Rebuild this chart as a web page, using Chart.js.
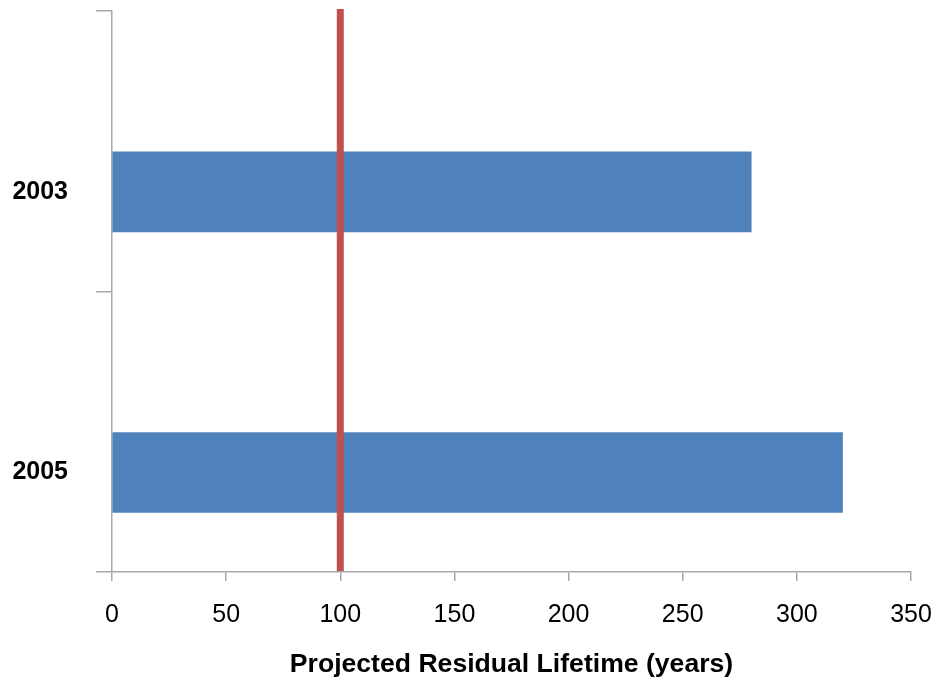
<!DOCTYPE html>
<html>
<head>
<meta charset="utf-8">
<script src="https://cdn.jsdelivr.net/npm/chart.js@4/dist/chart.umd.min.js"></script>
<style>
  html, body { margin: 0; padding: 0; background: #ffffff; }
  #wrap { width: 938px; height: 681px; }
</style>
</head>
<body>
<div id="wrap"><canvas id="c" width="938" height="681"></canvas></div>
<script>
// Survey years and projected residual lifetime of the reserve
const years = ['2003', '2005'];
const lifetimeYears = [280, 320];
// Reference threshold marked with a vertical line
const thresholdYears = 100;
const xTicks = [0, 50, 100, 150, 200, 250, 300, 350];
// Range of the year axis, in year-slot units (slot 0 is 2003 at the top)
const yMin = -0.645;
const yMax = 1.355;

const axisGray = '#a8a8a8';
const fontFamily = 'Liberation Sans, Arial, sans-serif';

// Vertical threshold line, positioned through the x scale
const thresholdLine = {
  id: 'thresholdLine',
  afterDatasetsDraw(chart) {
    const { ctx, chartArea, scales } = chart;
    const x = scales.x.getPixelForValue(thresholdYears);
    ctx.save();
    ctx.strokeStyle = '#c0504d';
    ctx.lineWidth = 7;
    ctx.beginPath();
    ctx.moveTo(x, chartArea.top - 2);
    ctx.lineTo(x, chartArea.bottom - 1);
    ctx.stroke();
    ctx.restore();
  }
};

new Chart(document.getElementById('c'), {
  type: 'bar',
  data: {
    datasets: [{
      data: years.map((yr, i) => ({ x: lifetimeYears[i], y: i })),
      backgroundColor: '#4f81bd',
      borderWidth: 0,
      barThickness: 80
    }]
  },
  options: {
    indexAxis: 'y',
    responsive: false,
    animation: false,
    layout: { padding: { top: 11, right: 27, left: 11, bottom: 0 } },
    plugins: { legend: { display: false }, tooltip: { enabled: false } },
    scales: {
      x: {
        type: 'linear',
        min: 0,
        max: 350,
        afterBuildTicks(scale) { scale.ticks = xTicks.map(v => ({ value: v })); },
        afterFit(scale) { scale.paddingLeft = 0; scale.paddingRight = 0; },
        grid: { drawOnChartArea: false, tickLength: 9, color: axisGray, lineWidth: 1.5 },
        border: { color: axisGray, width: 1.5 },
        ticks: {
          color: '#000000',
          padding: 19,
          font: { family: fontFamily, size: 25 }
        },
        title: {
          display: true,
          text: 'Projected Residual Lifetime (years)',
          color: '#000000',
          padding: { top: 0, bottom: 0 },
          font: { family: fontFamily, size: 26.6, weight: 'bold' }
        }
      },
      y: {
        type: 'linear',
        reverse: true,
        offset: false,
        min: yMin,
        max: yMax,
        // year labels sit on the bars; tick marks sit on the slot boundaries
        afterBuildTicks(scale) {
          const marks = [yMin, yMin + 1, yMax];
          const labels = years.map((_, i) => i);
          scale.ticks = marks.concat(labels).sort((a, b) => a - b).map(v => ({ value: v }));
        },
        afterFit(scale) { scale.paddingTop = 0; scale.paddingBottom = 0; scale.width = 101; },
        grid: {
          offset: false,
          drawOnChartArea: false,
          tickLength: 16,
          lineWidth: 1.5,
          color: ctx => (ctx.tick && Number.isInteger(ctx.tick.value)) ? 'rgba(0,0,0,0)' : axisGray
        },
        border: { color: axisGray, width: 1.5 },
        ticks: {
          color: '#000000',
          padding: 28,
          autoSkip: false,
          font: { family: fontFamily, size: 25, weight: 'bold' },
          callback: value => Number.isInteger(value) ? years[value] : ''
        }
      }
    }
  },
  plugins: [thresholdLine]
});
</script>
</body>
</html>
